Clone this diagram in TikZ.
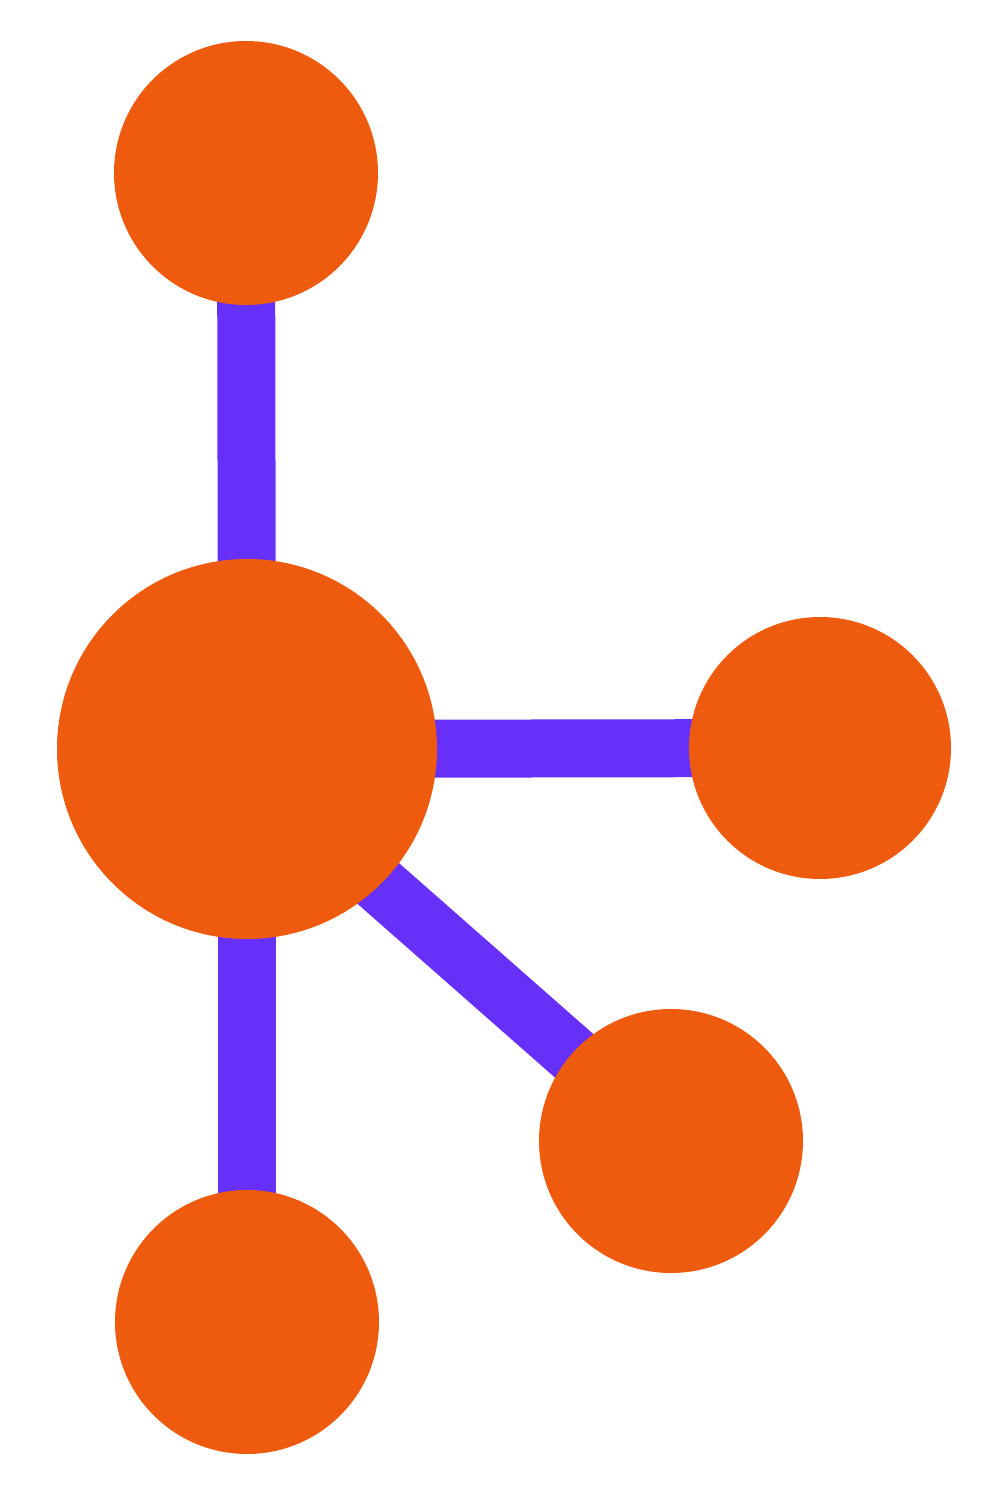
\documentclass[tikz,border=0pt]{standalone}
\usetikzlibrary{backgrounds}
\definecolor{nodeorange}{HTML}{EE5B0E}
\definecolor{linkpurple}{HTML}{6630F8}
\begin{document}
\begin{tikzpicture}[
  ball/.style={circle,fill=nodeorange,draw=none,inner sep=0pt},
  link/.style={draw=linkpurple,line width=0.58cm}
]
\useasboundingbox (0,0) rectangle (9.9,15);
\node[ball,minimum size=2.64cm] (top) at (2.46,13.27) {};
\node[ball,minimum size=3.80cm] (hub) at (2.47,7.51) {};
\node[ball,minimum size=2.62cm] (right) at (8.20,7.52) {};
\node[ball,minimum size=2.64cm] (lr) at (6.71,3.59) {};
\node[ball,minimum size=2.64cm] (bottom) at (2.47,1.78) {};
\begin{pgfonlayer}{background}
\draw[link] (hub.center) -- (top.center);
\draw[link] (hub.center) -- (right.center);
\draw[link] ([yshift=-0.19cm]hub.center) -- (lr.center);
\draw[link] (hub.center) -- (bottom.center);
\end{pgfonlayer}
\end{tikzpicture}
\end{document}
